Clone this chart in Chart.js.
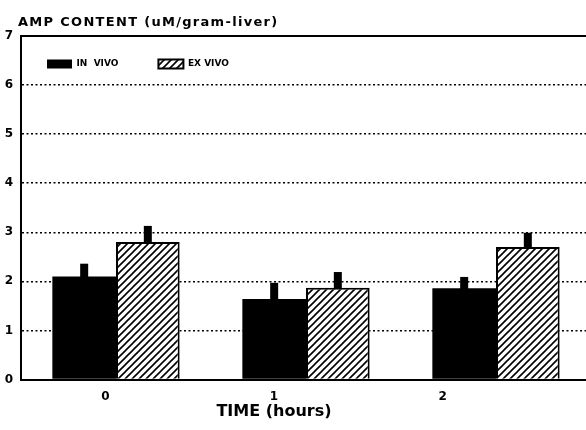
<!DOCTYPE html>
<html>
<head>
<meta charset="utf-8">
<title>AMP content</title>
<script src="https://cdn.jsdelivr.net/npm/chart.js@4.4.0/dist/chart.umd.min.js"></script>
<style>
  html, body { margin: 0; padding: 0; overflow: hidden; background: #fff; }
</style>
</head>
<body>
<canvas id="myChart" width="591" height="430"></canvas>
<script>
// values
const timeLabels = ['0', '1', '2'];
const inVivo = [2.1, 1.64, 1.86];
const exVivo = [2.8, 1.87, 2.7];
const inVivoErr = [0.26, 0.33, 0.23];
const exVivoErr = [0.33, 0.32, 0.29];
const yTitle = 'AMP CONTENT (uM/gram-liver)';
const xTitle = 'TIME (hours)';

const FONT = 'DejaVu Sans';
const LEGEND_PAD = 40;
const canvas = document.getElementById('myChart');
const ctx = canvas.getContext('2d');

// diagonal hatch for the ex vivo bars
function hatch() {
  const s = 7;
  const c = document.createElement('canvas');
  c.width = s; c.height = s;
  const g = c.getContext('2d');
  g.fillStyle = '#fff';
  g.fillRect(0, 0, s, s);
  g.strokeStyle = '#000';
  g.lineWidth = 1.6;
  g.beginPath();
  g.moveTo(-1, s + 1); g.lineTo(s + 1, -1);
  g.moveTo(-1, 1); g.lineTo(1, -1);
  g.moveTo(s - 1, s + 1); g.lineTo(s + 1, s - 1);
  g.stroke();
  return ctx.createPattern(c, 'repeat');
}

// short thick stub on top of each bar
const errorBars = {
  id: 'errorBars',
  afterDatasetsDraw(chart) {
    const c = chart.ctx, y = chart.scales.y;
    chart.data.datasets.forEach((ds, i) => {
      chart.getDatasetMeta(i).data.forEach((bar, j) => {
        const top = y.getPixelForValue(ds.data[j] + ds.errors[j]);
        c.save();
        c.fillStyle = '#000';
        c.fillRect(bar.x - 4, top, 8, bar.y - top + 1);
        c.restore();
      });
    });
  }
};

// move the legend inside the plot box, top left
const legendInside = {
  id: 'legendInside',
  afterLayout(chart) {
    const lg = chart.legend, area = chart.chartArea;
    if (!lg) return;
    lg.left = area.left + 26 - LEGEND_PAD;
    lg.top = area.top + 23.5 - LEGEND_PAD;
    lg.height = 2 * LEGEND_PAD + 10;
    lg.bottom = lg.top + lg.height;
  }
};

// axis captions
const captions = {
  id: 'captions',
  afterDraw(chart) {
    const c = chart.ctx, area = chart.chartArea;
    c.save();
    c.fillStyle = '#000';
    c.textBaseline = 'alphabetic';
    c.font = 'bold 13px "' + FONT + '"';
    c.letterSpacing = '1.3px';
    c.textAlign = 'left';
    c.fillText(yTitle, area.left - 3, area.top - 10);
    c.font = 'bold 16px "' + FONT + '"';
    c.letterSpacing = '0px';
    c.textAlign = 'center';
    c.fillText(xTitle, chart.scales.xLab.getPixelForValue(1), area.bottom + 36.5);
    c.restore();
  }
};

const tickFont = { family: FONT, size: 12, weight: 'bold' };

new Chart(ctx, {
  type: 'bar',
  data: {
    labels: timeLabels,
    datasets: [
      {
        label: 'IN  VIVO',
        data: inVivo,
        errors: inVivoErr,
        backgroundColor: '#000',
        borderWidth: 0,
        xAxisID: 'x',
        categoryPercentage: 0.67,
        barPercentage: 1.0
      },
      {
        label: 'EX VIVO',
        data: exVivo,
        errors: exVivoErr,
        backgroundColor: hatch(),
        borderColor: '#000',
        borderWidth: 2,
        xAxisID: 'x',
        categoryPercentage: 0.67,
        barPercentage: 1.0
      }
    ]
  },
  options: {
    responsive: false,
    animation: false,
    devicePixelRatio: 1,
    layout: { padding: { top: 35, left: 0, right: 0, bottom: 0 } },
    plugins: {
      legend: {
        position: 'top',
        align: 'start',
        maxHeight: 1,
        labels: {
          boxWidth: 25,
          boxHeight: 9,
          padding: LEGEND_PAD,
          color: '#000',
          font: { family: FONT, size: 9, weight: 'bold' }
        }
      },
      tooltip: { enabled: false }
    },
    scales: {
      x: { type: 'category', display: false, offset: true },
      xTop: {
        type: 'linear',
        position: 'top',
        offset: false,
        grid: { display: false, drawTicks: false },
        ticks: { display: false },
        border: { color: '#000', width: 2 }
      },
      xLab: {
        type: 'linear',
        position: 'bottom',
        offset: false,
        min: -0.5,
        max: 2.88,
        grid: { display: false, drawTicks: false },
        border: { color: '#000', width: 2 },
        ticks: {
          padding: 10,
          color: '#000',
          font: tickFont,
          callback: v => timeLabels[v]
        },
        afterBuildTicks: s => { s.ticks = timeLabels.map((t, i) => ({ value: i })); },
        afterFit: s => { s.height = 50.5; }
      },
      y: {
        min: 0,
        max: 7,
        ticks: { stepSize: 1, padding: 8, color: '#000', font: tickFont },
        grid: { color: '#000', lineWidth: 1.5, drawTicks: false },
        border: { color: '#000', width: 2, dash: [2, 2.5] },
        afterFit: s => { s.width = 21; }
      }
    }
  },
  plugins: [errorBars, legendInside, captions]
});
</script>
</body>
</html>
